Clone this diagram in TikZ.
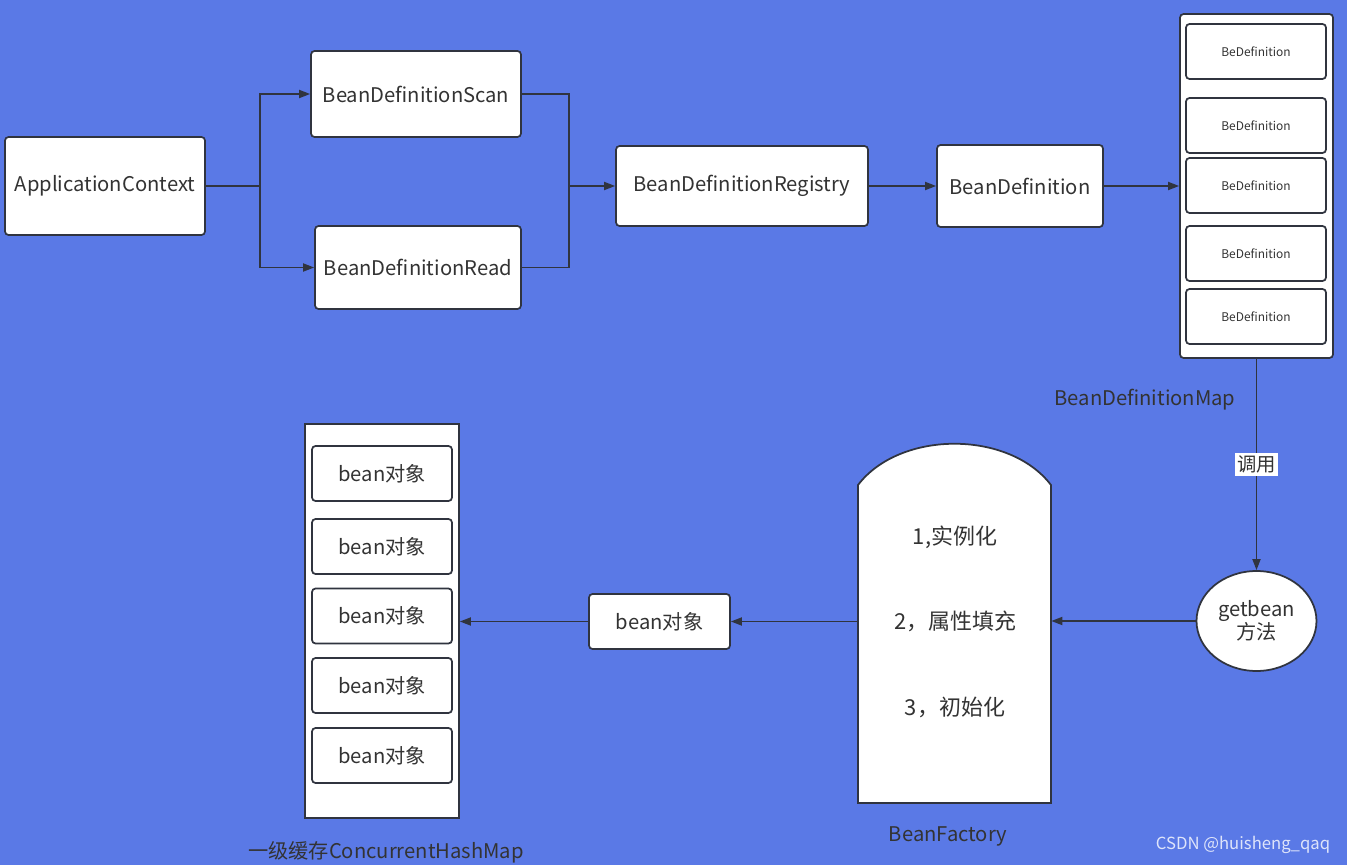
\documentclass[tikz,border=0pt]{standalone}
\usepackage{fontspec}
\setmainfont{Noto Sans CJK SC}
\usetikzlibrary{arrows.meta,positioning,shapes.geometric}
\definecolor{bgblue}{HTML}{5A79E6}
\definecolor{lndark}{HTML}{30343F}
\definecolor{txdark}{HTML}{333333}

\begin{document}
\begin{tikzpicture}[x=0.02cm,y=-0.02cm,
  box/.style={draw=lndark,fill=white,rounded corners=2pt,align=center,font=\fontsize{11.5}{13}\selectfont,text=txdark,inner sep=0pt,line width=1pt},
  cell/.style={box,minimum width=2.8cm,minimum height=1.1cm},
  mini/.style={cell,font=\fontsize{6.8}{8}\selectfont},
  lbl/.style={font=\fontsize{11.5}{13}\selectfont,text=txdark},
  arr/.style={-{Triangle[length=2.2mm,width=1.6mm]},color=lndark,line width=1pt},
  ln/.style={color=lndark,line width=1pt}]
\useasboundingbox (0,0) rectangle (1347,865);
\fill[bgblue] (0,0) rectangle (1347,865);
% top row
\node[box,minimum width=4cm,minimum height=1.96cm] (ac) at (105,186) {ApplicationContext};
\node[box,minimum width=4.2cm,minimum height=1.72cm] (scan) at (416,94) {BeanDefinitionScan};
\node[box,minimum width=4.12cm,minimum height=1.66cm] (read) at (418,267.5) {BeanDefinitionRead};
\node[box,minimum width=5.04cm,minimum height=1.6cm] (reg) at (742,186) {BeanDefinitionRegistry};
\node[box,minimum width=3.32cm,minimum height=1.64cm] (bd) at (1020,186) {BeanDefinition};
\node[box,minimum width=3.06cm,minimum height=6.88cm] (map) at (1256.5,186) {};
\node[mini] (m1) at (1256,51.5) {BeDefinition};
\node[mini] (m2) at (1256,125.5) {BeDefinition};
\node[mini] (m3) at (1256,185.5) {BeDefinition};
\node[mini] (m4) at (1256,253.5) {BeDefinition};
\node[mini] (m5) at (1256,316.5) {BeDefinition};
\node[lbl] (maplbl) at (1145,400) {BeanDefinitionMap};
\coordinate (j1) at (260,186);
\coordinate (j2) at (569,186);
\draw[ln] (ac.east) -- (j1);
\draw[arr] (j1) |- (scan.west); \draw[arr] (j1) |- (read.west);
\draw[ln] (scan.east) -| (j2); \draw[ln] (read.east) -| (j2);
\draw[arr] (j2) -- (reg.west); \draw[arr] (reg.east) -- (bd.west); \draw[arr] (bd.east) -- (map.west);
% bottom row
\node[draw=lndark,fill=white,ellipse,inner sep=0pt,minimum width=2.4cm,minimum height=2cm,align=center,font=\fontsize{11.5}{13}\selectfont,text=txdark,line width=1pt] (gb) at (1256.5,621) {getbean\\方法};
\draw[arr] (map.south) -- node[fill=white,inner sep=1.5pt,font=\fontsize{11}{12}\selectfont,text=txdark] {调用} (gb.north);
\node[minimum width=3.86cm,minimum height=6.36cm,inner sep=0pt] (bf) at (954.5,644) {};
\draw[ln,fill=white] (858,803) -- (858,485) .. controls (900,430) and (1009,430) .. (1051,485) -- (1051,803) -- cycle;
\node[font=\fontsize{12.5}{14}\selectfont,text=txdark] (s1) at (955,537) {1,实例化};
\node[font=\fontsize{12.5}{14}\selectfont,text=txdark] (s2) at (955,621) {2，属性填充};
\node[font=\fontsize{12.5}{14}\selectfont,text=txdark] (s3) at (955,707) {3，初始化};
\node[lbl] (bflbl) at (948,836) {BeanFactory};
\node[box,minimum width=2.82cm,minimum height=1.1cm] (obj) at (659.5,621.5) {bean对象};
\node[box,rounded corners=0pt,minimum width=3.08cm,minimum height=7.88cm] (cache) at (382,621) {};
\node[cell] (c1) at (382,473.5) {bean对象};
\node[cell] (c2) at (382,546.5) {bean对象};
\node[cell] (c3) at (382,616) {bean对象};
\node[cell] (c4) at (382,685.5) {bean对象};
\node[cell] (c5) at (382,755.5) {bean对象};
\node[lbl] (cachelbl) at (386,852) {一级缓存ConcurrentHashMap};
\draw[arr] (gb.west) -- (gb.west -| bf.east);
\draw[arr] (obj.east -| bf.west) -- (obj.east);
\draw[arr] (obj.west) -- (obj.west -| cache.east);
\node[font=\fontsize{9.5}{11}\selectfont,text=white!80!bgblue] (wm) at (1243,845) {CSDN @huisheng\_qaq};
\end{tikzpicture}
\end{document}
